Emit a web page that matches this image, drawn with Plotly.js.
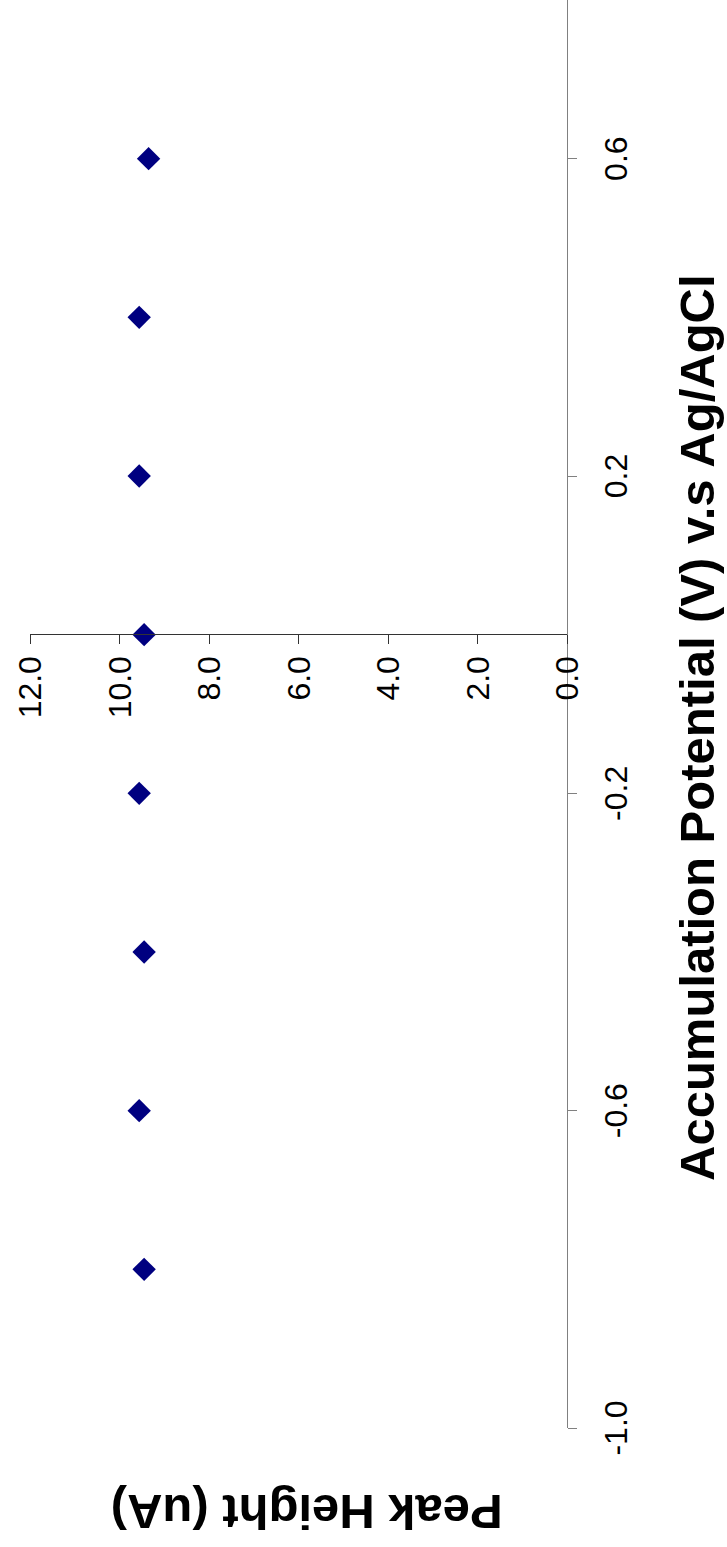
<!DOCTYPE html>
<html><head><meta charset="utf-8">
<script src="https://cdn.plot.ly/plotly-3.0.1.min.js"></script>
<style>
html,body{margin:0;padding:0;width:727px;height:1547px;overflow:hidden;background:#fff;}
#chart{position:absolute;left:0;top:0;width:1547px;height:727px;transform-origin:0 0;transform:translateY(1547px) rotate(-90deg);}
</style></head><body><div id="chart"></div>
<script>
const potential = [-0.8, -0.6, -0.4, -0.2, 0.0, 0.2, 0.4, 0.6];
const peakHeight = [9.45, 9.56, 9.45, 9.56, 9.45, 9.56, 9.56, 9.35];
const xTickVals = [-1.0, -0.6, -0.2, 0.2, 0.6];
const xTickText = ['-1.0', '-0.6', '-0.2', '0.2', '0.6'];
const yTickVals = [0, 2, 4, 6, 8, 10, 12];
const yTickText = ['0.0', '2.0', '4.0', '6.0', '8.0', '10.0', '12.0'];
const xTitle = 'Accumulation Potential (V) v.s Ag/AgCl';
const yTitle = 'Peak Height (uA)';

const xRange = [-1.0, 0.8];
const tickFont = {family: 'Liberation Sans, Arial, sans-serif', size: 32, color: '#000'};
const titleFont = {family: 'Liberation Sans, Arial, sans-serif', size: 49, color: '#000', weight: 'bold'};

const trace = {
  x: potential, y: peakHeight, type: 'scatter', mode: 'markers',
  marker: {symbol: 'diamond', size: 18, color: '#000080', line: {width: 0}},
  hoverinfo: 'skip'
};

const layout = {
  width: 1547, height: 727,
  margin: {l: 119, r: 0, t: 30, b: 160, pad: 0},
  paper_bgcolor: '#fff', plot_bgcolor: '#fff',
  showlegend: false,
  xaxis: {
    range: xRange, tickmode: 'array', tickvals: xTickVals, ticktext: xTickText,
    ticks: 'outside', ticklen: 9, tickwidth: 1, tickcolor: '#808080',
    showline: true, linecolor: '#808080', linewidth: 1,
    showgrid: false, zeroline: false, tickfont: tickFont, ticklabelstandoff: 12,
    fixedrange: true
  },
  yaxis: {
    range: [0, 12], anchor: 'free', position: (0 - xRange[0]) / (xRange[1] - xRange[0]),
    tickmode: 'array', tickvals: yTickVals, ticktext: yTickText,
    ticks: 'outside', ticklen: 9, tickwidth: 1, tickcolor: '#333',
    showline: true, linecolor: '#333', linewidth: 1,
    showgrid: false, zeroline: false, tickfont: tickFont, ticklabelstandoff: 6,
    fixedrange: true
  },
  annotations: [
    {text: xTitle, xref: 'paper', yref: 'paper', x: 0.4906, y: -0.2421,
     xanchor: 'center', yanchor: 'middle', showarrow: false, font: titleFont},
    {text: yTitle, xref: 'paper', yref: 'paper', x: -0.0588, y: 0.4847,
     xanchor: 'center', yanchor: 'middle', showarrow: false, textangle: -90, font: titleFont}
  ]
};

Plotly.newPlot('chart', [trace], layout, {displayModeBar: false, staticPlot: true});
</script></body></html>
